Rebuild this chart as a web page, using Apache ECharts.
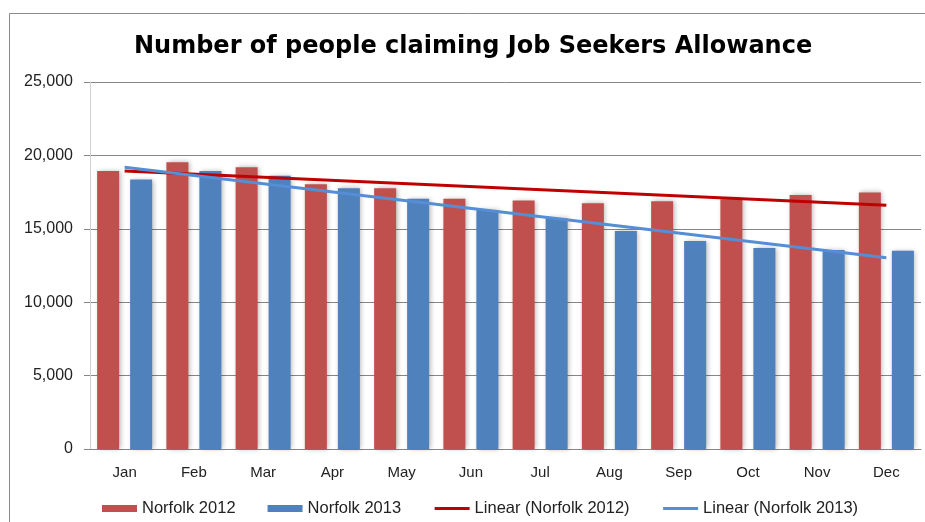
<!DOCTYPE html>
<html>
<head>
<meta charset="utf-8">
<title>Job Seekers Allowance claimants</title>
<script src="https://cdn.jsdelivr.net/npm/echarts@6/dist/echarts.min.js"></script>
<style>
  html, body { margin: 0; padding: 0; background: #ffffff; }
  #chart { width: 925px; height: 522px; }
</style>
</head>
<body>
<div id="chart"></div>
<script>
// Monthly claimant counts, Norfolk
const months = ['Jan', 'Feb', 'Mar', 'Apr', 'May', 'Jun', 'Jul', 'Aug', 'Sep', 'Oct', 'Nov', 'Dec'];
const norfolk2012 = [18940, 19530, 19190, 18030, 17760, 17040, 16920, 16740, 16870, 17010, 17300, 17480];
const norfolk2013 = [18350, 18940, 18620, 17760, 17050, 16280, 15710, 14850, 14170, 13690, 13560, 13510];
// Linear trend lines: values at the first and the last month
const trend2012 = [18940, 16600];
const trend2013 = [19190, 13030];
// Value axis ticks
const yTicks = [0, 5000, 10000, 15000, 20000, 25000];

const FONT = '"Liberation Sans", Arial, sans-serif';
const last = months.length - 1;

const barShadow = {
  shadowColor: 'rgba(0,0,0,0.3)',
  shadowBlur: 5,
  shadowOffsetX: 1.5,
  shadowOffsetY: 0
};

const chart = echarts.init(document.getElementById('chart'), null, { renderer: 'canvas' });

chart.setOption({
  animation: false,
  backgroundColor: '#ffffff',
  title: {
    text: 'Number of people claiming Job Seekers Allowance',
    left: 129,
    top: 30,
    textStyle: {
      fontFamily: '"DejaVu Sans", sans-serif',
      fontWeight: 'bold',
      fontSize: 24,
      color: '#000000'
    }
  },
  graphic: [{
    type: 'rect',
    silent: true,
    z: -1,
    shape: { x: 9.5, y: 13.5, width: 1000, height: 600 },
    style: { fill: 'none', stroke: '#8c8c8c', lineWidth: 1 }
  }],
  legend: {
    left: 97,
    top: 495,
    itemWidth: 35,
    itemHeight: 7,
    itemGap: 32,
    textStyle: { fontFamily: FONT, fontSize: 16.5, color: '#222' },
    data: [
      { name: 'Norfolk 2012', icon: 'rect' },
      { name: 'Norfolk 2013', icon: 'rect' },
      { name: 'Linear (Norfolk 2012)', itemStyle: { opacity: 0 }, lineStyle: { width: 3 } },
      { name: 'Linear (Norfolk 2013)', itemStyle: { opacity: 0 }, lineStyle: { width: 3 } }
    ]
  },
  grid: {
    left: 90,
    right: 4,
    top: 82,
    bottom: 73,
    containLabel: false
  },
  xAxis: {
    type: 'category',
    data: months,
    axisLine: { lineStyle: { color: '#868686', width: 1 } },
    axisTick: { show: false },
    axisLabel: { fontFamily: FONT, fontSize: 15, color: '#222', margin: 16 },
    splitLine: { show: false }
  },
  yAxis: {
    type: 'value',
    min: yTicks[0],
    max: yTicks[yTicks.length - 1],
    interval: yTicks[1] - yTicks[0],
    axisLine: { show: true, lineStyle: { color: '#d0d0d0', width: 1 } },
    axisTick: { show: true, length: 6, lineStyle: { color: '#868686' } },
    axisLabel: {
      fontFamily: FONT,
      fontSize: 16,
      color: '#222',
      margin: 17,
      formatter: v => v.toLocaleString('en-US')
    },
    splitLine: { show: true, lineStyle: { color: '#868686', width: 1 } }
  },
  series: [
    {
      name: 'Norfolk 2012',
      type: 'bar',
      data: norfolk2012,
      barWidth: 22,
      barGap: '50%',
      itemStyle: Object.assign({ color: '#C0504D' }, barShadow)
    },
    {
      name: 'Norfolk 2013',
      type: 'bar',
      data: norfolk2013,
      barWidth: 22,
      barGap: '50%',
      itemStyle: Object.assign({ color: '#4F81BD' }, barShadow)
    },
    {
      name: 'Linear (Norfolk 2012)',
      type: 'line',
      data: [[0, trend2012[0]], [last, trend2012[1]]],
      symbol: 'none',
      z: 5,
      lineStyle: { color: '#C00000', width: 3 },
      itemStyle: { color: '#C00000' }
    },
    {
      name: 'Linear (Norfolk 2013)',
      type: 'line',
      data: [[0, trend2013[0]], [last, trend2013[1]]],
      symbol: 'none',
      z: 5,
      lineStyle: { color: '#558ED5', width: 3 },
      itemStyle: { color: '#558ED5' }
    }
  ]
});
</script>
</body>
</html>
